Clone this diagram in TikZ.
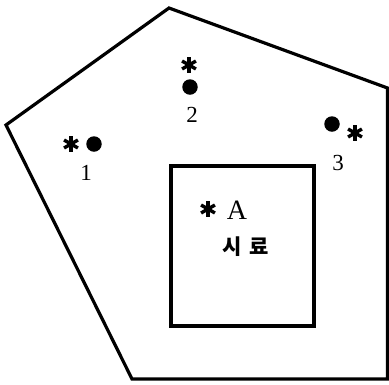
\documentclass[tikz,border=0pt]{standalone}
\usepackage{fontspec}
\setmainfont{Liberation Serif}
\newfontfamily\kofont{Noto Sans CJK KR}
\tikzset{
  wall/.style={line width=3.2pt, line join=miter},
  spot/.style={circle, fill=black, inner sep=0pt, minimum size=15.5pt},
  starmark/.style={inner sep=0pt, minimum size=18pt,
    path picture={
      \begin{scope}[shift={(path picture bounding box.center)}]
        \foreach \a in {90,30,150}
          \draw[line width=3.4pt] (\a:8pt) -- (\a+180:8pt);
      \end{scope}}},
  tag/.style={inner sep=0pt, font=\fontsize{23}{23}\selectfont},
}
\begin{document}
\begin{tikzpicture}[x=1pt,y=-1pt]
\useasboundingbox (0,0) rectangle (389,384);
% room outline
\coordinate (p1) at (169,8);
\coordinate (p2) at (387.5,88);
\coordinate (p3) at (387.5,379);
\coordinate (p4) at (132,379);
\coordinate (p5) at (6,125);
\draw[wall] (p1) -- (p2) -- (p3) -- (p4) -- (p5) -- cycle;
% sample box
\draw[wall] (171,166) rectangle (314,326);
% points 1, 2, 3
\node[spot] (d1) at (94,144) {};
\node[starmark] (s1) at (71,144) {};
\node[tag] (n1) at (86,173) {1};
\node[spot] (d2) at (190,87) {};
\node[starmark] (s2) at (189,65) {};
\node[tag] (n2) at (192,115) {2};
\node[spot] (d3) at (332,124) {};
\node[starmark] (s3) at (355,133) {};
\node[tag] (n3) at (338,163) {3};
% point A
\node[starmark] (sA) at (208,209) {};
\node[tag, font=\fontsize{28}{28}\selectfont] (nA) at (237,210) {A};
\node[inner sep=0pt, font=\kofont\fontsize{21}{21}\selectfont\bfseries] (smp) at (246,247) {시\hspace{8pt}료};
\end{tikzpicture}
\end{document}
